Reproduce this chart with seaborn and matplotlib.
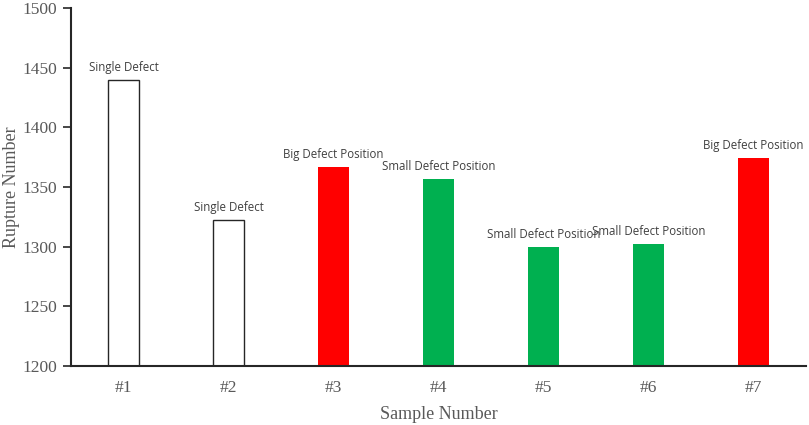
import pandas as pd
import matplotlib

matplotlib.use('Agg')
import matplotlib.pyplot as plt
import seaborn as sns

# ---- 数据 ----
samples = ['#1', '#2', '#3', '#4', '#5', '#6', '#7']
rupture = [1440, 1322, 1367, 1357, 1300, 1302, 1374]
labels = ['Single Defect', 'Single Defect', 'Big Defect Position', 'Small Defect Position',
          'Small Defect Position', 'Small Defect Position', 'Big Defect Position']
colors = ['white', 'white', '#ff0000', '#00b050', '#00b050', '#00b050', '#ff0000']

df = pd.DataFrame({'Sample': samples, 'Rupture': rupture})

sns.set_theme(style="white")
plt.rcParams['font.family'] = ['Liberation Serif', 'DejaVu Serif']

fig = plt.figure(figsize=(8.09, 4.25), dpi=100)
ax = fig.add_axes([0.088, 0.139, 0.908, 0.842])

sns.barplot(data=df, x='Sample', y='Rupture', hue='Sample', palette=colors,
            legend=False, width=0.3, ax=ax, saturation=1)

for patch, c in zip(ax.patches, colors):
    if c == 'white':
        patch.set_edgecolor('#262626')
        patch.set_linewidth(1.0)
    else:
        patch.set_edgecolor('none')

# 柱顶标签
for i, (v, lab) in enumerate(zip(rupture, labels)):
    ax.text(i, v + 5, lab, ha='center', va='bottom', fontsize=8.3,
            color='#404040', family=['Open Sans', 'DejaVu Sans'])

ax.set_ylim(1200, 1500)
ax.set_yticks(range(1200, 1501, 50))
ax.set_xlim(-0.5, 6.5)
ax.tick_params(axis='y', which='both', left=True, length=6, width=1.2,
               color='#262626', labelsize=12.5, labelcolor='#595959', pad=4)
ax.tick_params(axis='x', bottom=False, labelsize=12.5, labelcolor='#595959', pad=4)

for side in ['top', 'right']:
    ax.spines[side].set_visible(False)
for side in ['left', 'bottom']:
    ax.spines[side].set_color('#262626')
    ax.spines[side].set_linewidth(1.5)

ax.set_xlabel('Sample Number', fontsize=13, color='#595959', labelpad=7)
ax.set_ylabel('Rupture Number', fontsize=13, color='#595959', labelpad=2)

plt.savefig('out.png', dpi=100)
plt.close()
